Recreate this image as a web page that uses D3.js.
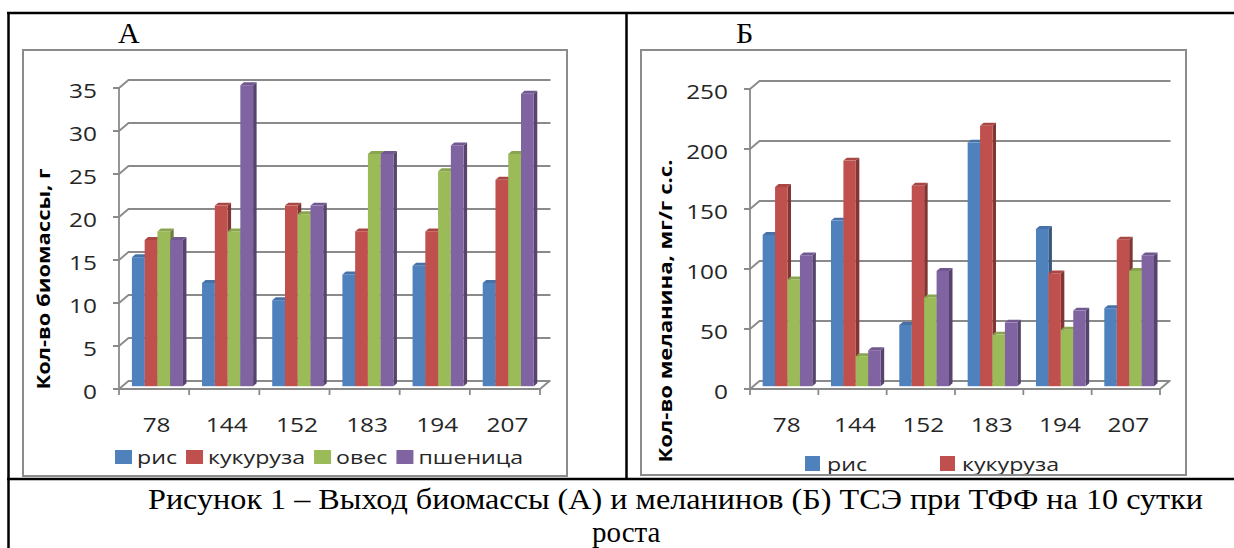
<!DOCTYPE html>
<html>
<head>
<meta charset="utf-8">
<script src="https://cdn.jsdelivr.net/npm/d3@7"></script>
<style>
  html, body { margin: 0; padding: 0; background: #fff; }
  svg { display: block; }
  .tick-label { font-family: "Open Sans", "Liberation Sans", sans-serif; font-size: 20px; fill: #262626; }
  .legend-label { font-family: "Open Sans", "Liberation Sans", sans-serif; font-size: 19px; fill: #262626; }
  .axis-title { font-family: "Open Sans", "Liberation Sans", sans-serif; font-size: 18px; font-weight: bold; fill: #000; }
  .serif { font-family: "Liberation Serif", "Times New Roman", serif; fill: #000; }
</style>
</head>
<body>
<svg id="fig" width="1234" height="548"></svg>
<script>
// ---- data ----
const categories = ["78", "144", "152", "183", "194", "207"];
const seriesNames = ["рис", "кукуруза", "овес", "пшеница"];
const seriesColors = ["#4F81BD", "#C0504D", "#9BBB59", "#8064A2"];

// Panel A: biomass yield, g
const biomassRice  = [15, 12, 10, 13, 14, 12];
const biomassCorn  = [17, 21, 21, 18, 18, 24];
const biomassOats  = [18, 18, 20, 27, 25, 27];
const biomassWheat = [17, 35, 21, 27, 28, 34];
const biomassTicks = [0, 5, 10, 15, 20, 25, 30, 35];

// Panel B: melanin content, mg/g dry weight
const melaninRice  = [126, 138, 51, 203, 131, 65];
const melaninCorn  = [166, 188, 167, 217, 94, 122];
const melaninOats  = [89, 25, 74, 43, 47, 96];
const melaninWheat = [109, 30, 96, 53, 63, 109];
const melaninTicks = [0, 50, 100, 150, 200, 250];

const captionLines = [
  "Рисунок 1 – Выход биомассы (А) и меланинов (Б) ТСЭ при ТФФ на 10 сутки",
  "роста"
];

// ---- drawing ----
const svg = d3.select("#fig");
const SX = 1.22;            // horizontal stretch of the chart lettering
const DX = 9.5, DY = -8;    // 3-D depth vector (back wall offset)
const BAR_T0 = 0.35;        // depth position of bar front faces
const BAR_TH = 0.37;        // bar thickness along depth
const GRID = "#8a8a8a";

function stretchedText(parent, x, y, str, cls, anchor) {
  return parent.append("g")
    .attr("transform", `translate(${x},${y}) scale(${SX},1)`)
    .append("text")
    .attr("class", cls)
    .attr("text-anchor", anchor)
    .text(str);
}

function drawPanel(p) {
  const g = svg.append("g");

  // chart area frame
  g.append("rect")
    .attr("x", p.frame[0]).attr("y", p.frame[1])
    .attr("width", p.frame[2] - p.frame[0]).attr("height", p.frame[3] - p.frame[1])
    .attr("fill", "#fff").attr("stroke", "#8c8c8c").attr("stroke-width", 2);

  const x = d3.scaleBand().domain(categories).range([p.x0, p.x1]).paddingInner(0).paddingOuter(0);
  const xs = d3.scaleBand().domain(seriesNames).range([0, x.bandwidth()]).paddingInner(0).paddingOuter(0.75);
  const y = d3.scaleLinear().domain([0, d3.max(p.ticks)]).range([p.y0, p.yTop]);

  const backRight = p.x1 + DX + 1;

  // back wall gridlines, side wall diagonals, tick marks
  p.ticks.forEach(t => {
    const yy = y(t);
    g.append("path")
      .attr("d", `M${p.x0 - 6},${yy} L${p.x0},${yy} L${p.x0 + DX},${yy + DY} L${backRight},${yy + DY}`)
      .attr("fill", "none").attr("stroke", GRID).attr("stroke-width", 1.8);
    stretchedText(g, p.x0 - 22, yy + 9.5, String(t), "tick-label", "end");
  });

  // value axis line
  g.append("line")
    .attr("x1", p.x0).attr("x2", p.x0)
    .attr("y1", y(0)).attr("y2", y(d3.max(p.ticks)))
    .attr("stroke", GRID).attr("stroke-width", 1.8);

  // floor: front edge and right edge
  g.append("path")
    .attr("d", `M${p.x0},${y(0)} L${p.x1},${y(0)} L${p.x1 + DX},${y(0) + DY}`)
    .attr("fill", "none").attr("stroke", GRID).attr("stroke-width", 1.8);

  // category ticks and labels
  d3.range(categories.length + 1).forEach(i => {
    const xx = p.x0 + i * x.step();
    g.append("line")
      .attr("x1", xx).attr("x2", xx).attr("y1", y(0)).attr("y2", y(0) + 6)
      .attr("stroke", GRID).attr("stroke-width", 1.8);
  });
  categories.forEach(c => {
    stretchedText(g, x(c) + x.bandwidth() / 2 + 2.5, 432, c, "tick-label", "middle");
  });

  // 3-D columns
  const bars = g.append("g");
  categories.forEach((c, ci) => {
    p.values.forEach((vals, si) => {
      const col = d3.color(seriesColors[si]);
      const w = xs.bandwidth();
      const xb = x(c) + xs(seriesNames[si]) + BAR_T0 * DX;
      const yb = y(0) + BAR_T0 * DY;
      const yt = y(vals[ci]) + BAR_T0 * DY;
      const ddx = BAR_TH * DX, ddy = BAR_TH * DY;
      bars.append("path")
        .attr("d", `M${xb + w},${yt} L${xb + w + ddx},${yt + ddy} L${xb + w + ddx},${yb + ddy} L${xb + w},${yb} Z`)
        .attr("fill", col.darker(1.1));
      bars.append("path")
        .attr("d", `M${xb},${yt} L${xb + w},${yt} L${xb + w + ddx},${yt + ddy} L${xb + ddx},${yt + ddy} Z`)
        .attr("fill", col.darker(0.35));
      bars.append("rect")
        .attr("x", xb).attr("y", yt).attr("width", w).attr("height", yb - yt)
        .attr("fill", col);
    });
  });

  // value axis title
  g.append("text")
    .attr("class", "axis-title")
    .attr("transform", `translate(${p.titlePos[0]},${p.titlePos[1]}) rotate(-90)`)
    .attr("text-anchor", "middle")
    .attr("textLength", p.titleLen)
    .attr("lengthAdjust", "spacingAndGlyphs")
    .text(p.axisTitle);

  // legend
  const clipId = "clip-" + p.id;
  svg.append("clipPath").attr("id", clipId)
    .append("rect")
    .attr("x", p.frame[0]).attr("y", p.frame[1])
    .attr("width", p.frame[2] - p.frame[0]).attr("height", p.frame[3] - p.frame[1] - 1);
  const lg = g.append("g").attr("clip-path", `url(#${clipId})`);
  let lx = p.legend.x;
  p.legend.items.forEach((si, k) => {
    const ix = p.legend.colX ? p.legend.colX[k] : lx;
    lg.append("rect")
      .attr("x", ix).attr("y", p.legend.y - p.legend.sh)
      .attr("width", p.legend.sw).attr("height", p.legend.sh)
      .attr("fill", seriesColors[si]);
    const t = stretchedText(lg, ix + p.legend.sw + p.legend.gap, p.legend.y, seriesNames[si], "legend-label", "start");
    lx = ix + p.legend.sw + p.legend.gap + t.node().getComputedTextLength() * SX + p.legend.after;
  });

  // panel letter
  svg.append("text").attr("class", "serif")
    .attr("x", p.letterX).attr("y", 43)
    .attr("font-size", 30)
    .text(p.letter);
}

drawPanel({
  id: "a", letter: "А", letterX: 118,
  frame: [23, 50, 567, 476],
  x0: 119, x1: 540, y0: 389, yTop: 88,
  ticks: biomassTicks,
  values: [biomassRice, biomassCorn, biomassOats, biomassWheat],
  axisTitle: "Кол-во биомассы, г", titlePos: [50, 279], titleLen: 221,
  legend: { x: 115, y: 464, sw: 17, sh: 14, gap: 5, after: 9, items: [0, 1, 2, 3] }
});

drawPanel({
  id: "b", letter: "Б", letterX: 736,
  frame: [641, 50, 1186, 475],
  x0: 750, x1: 1160, y0: 389, yTop: 89,
  ticks: melaninTicks,
  values: [melaninRice, melaninCorn, melaninOats, melaninWheat],
  axisTitle: "Кол-во меланина, мг/г с.с.", titlePos: [672, 311], titleLen: 303,
  legend: { x: 805, y: 471, sw: 15, sh: 15, gap: 7, after: 0, items: [0, 1], colX: [805, 940] }
});

// table rules around the figure
const rule = (x1, y1, x2, y2) => svg.append("line")
  .attr("x1", x1).attr("y1", y1).attr("x2", x2).attr("y2", y2)
  .attr("stroke", "#000").attr("stroke-width", 2.5);
rule(7, 13, 1234, 13);
rule(8.5, 12, 8.5, 548);
rule(626.5, 12, 626.5, 479);
rule(7, 479, 1234, 479);

// caption
svg.append("text").attr("class", "serif").attr("font-size", 30)
  .attr("x", 148).attr("y", 509)
  .attr("textLength", 1055).attr("lengthAdjust", "spacingAndGlyphs")
  .text(captionLines[0]);
svg.append("text").attr("class", "serif").attr("font-size", 29)
  .attr("x", 592).attr("y", 541.7).text(captionLines[1]);
</script>
</body>
</html>
